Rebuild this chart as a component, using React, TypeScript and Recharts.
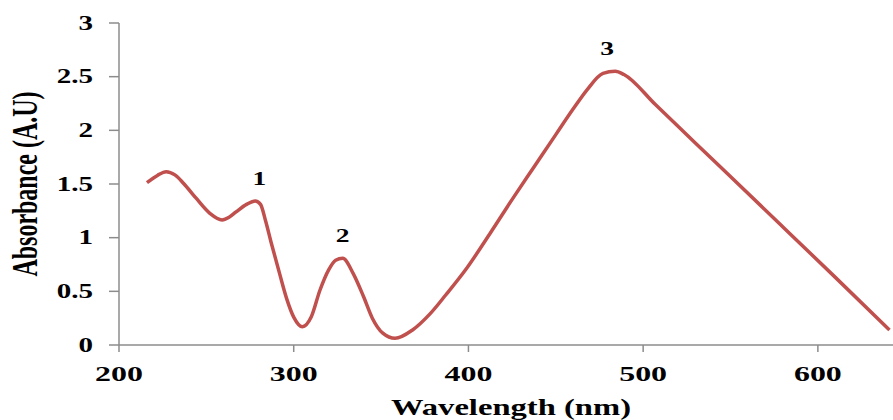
import { LineChart, Line, XAxis, YAxis, LabelList } from "recharts";

// Absorption spectrum, wavelength in nm
const wavelength = [
  216, 222, 227, 232, 237, 244, 252, 259, 263, 267, 273, 278, 281, 284, 287, 292,
  296, 300, 305, 310, 315, 320, 324, 328, 334, 340, 345, 351, 358, 368, 378, 387,
  399, 412, 426, 438, 450, 460, 468, 477, 484, 489, 507, 530, 548, 580, 610, 641,
];
const absorbance = [
  1.513, 1.58, 1.615, 1.585, 1.505, 1.37, 1.227, 1.165, 1.19, 1.24, 1.31, 1.342, 1.31, 1.15, 0.96, 0.66,
  0.43, 0.26, 0.17, 0.26, 0.51, 0.7, 0.79, 0.808, 0.668, 0.45, 0.25, 0.11, 0.062, 0.14, 0.29, 0.466,
  0.715, 1.03, 1.38, 1.67, 1.96, 2.2, 2.38, 2.53, 2.55, 2.52, 2.24, 1.88, 1.6, 1.1, 0.63, 0.14,
];
// numbered absorption bands
const peakWavelengths = [278, 328, 484];
const peakNames = ["1", "2", "3"];

const xTicks = [200, 300, 400, 500, 600];
const yTicks = [0, 0.5, 1, 1.5, 2, 2.5, 3];

const data = wavelength.map((w, i) => {
  const p = peakWavelengths.indexOf(w);
  return { wavelength: w, absorbance: absorbance[i], peak: p >= 0 ? peakNames[p] : undefined };
});

const FONT = "'Liberation Serif', 'Times New Roman', serif";
const STRETCH = 1.45;
const AXIS = "#8c8c8c";
const labelShift: Record<string, number> = { "1": 4, "2": 0, "3": -8 };

const XTick = ({ x, y, payload }: any) => (
  <text
    transform={`translate(${x},${y + 27}) scale(${STRETCH},1)`}
    textAnchor="middle"
    fontFamily={FONT}
    fontWeight="bold"
    fontSize={22}
    fill="#000"
  >
    {payload.value}
  </text>
);

const YTick = ({ x, y, payload }: any) => (
  <text
    transform={`translate(${x},${y}) scale(${STRETCH},1)`}
    textAnchor="end"
    dy="0.34em"
    fontFamily={FONT}
    fontWeight="bold"
    fontSize={20}
    fill="#000"
  >
    {payload.value}
  </text>
);

const PeakLabel = ({ x, y, value }: any) => {
  if (!value) return null;
  return (
    <text
      transform={`translate(${x + (labelShift[value] ?? 0)},${y - 16}) scale(${STRETCH},1)`}
      textAnchor="middle"
      fontFamily={FONT}
      fontWeight="bold"
      fontSize={19}
      fill="#000"
    >
      {value}
    </text>
  );
};

export default function App() {
  return (
    <div style={{ position: "fixed", left: 0, top: 0, width: 893, height: 420, background: "#fff" }}>
      <LineChart width={893} height={420} data={data} margin={{ top: 23, right: 0, bottom: 0, left: 0 }}>
        <XAxis
          dataKey="wavelength"
          type="number"
          domain={[200, 643]}
          ticks={xTicks}
          allowDataOverflow
          height={75}
          stroke={AXIS}
          strokeWidth={1.5}
          tickSize={7}
          tickLine={{ stroke: AXIS }}
          tick={<XTick />}
          label={{
            content: () => (
              <text
                transform={`translate(511,415) scale(${STRETCH},1)`}
                textAnchor="middle"
                fontFamily={FONT}
                fontWeight="bold"
                fontSize={22.5}
                fill="#000"
              >
                Wavelength (nm)
              </text>
            ),
          }}
        />
        <YAxis
          type="number"
          domain={[0, 3]}
          ticks={yTicks}
          width={119}
          stroke={AXIS}
          strokeWidth={1.5}
          tickSize={10}
          tickMargin={16}
          tickLine={{ stroke: AXIS }}
          tick={<YTick />}
          label={{
            content: () => (
              <text
                transform={`translate(25,184) scale(${STRETCH},1) rotate(-90)`}
                textAnchor="middle"
                dominantBaseline="central"
                fontFamily={FONT}
                fontWeight="bold"
                fontSize={24}
                fill="#000"
              >
                Absorbance (A.U)
              </text>
            ),
          }}
        />
        <Line
          type="monotone"
          dataKey="absorbance"
          stroke="#c0504d"
          strokeWidth={3.5}
          dot={false}
          isAnimationActive={false}
        >
          <LabelList dataKey="peak" content={<PeakLabel />} />
        </Line>
      </LineChart>
    </div>
  );
}
